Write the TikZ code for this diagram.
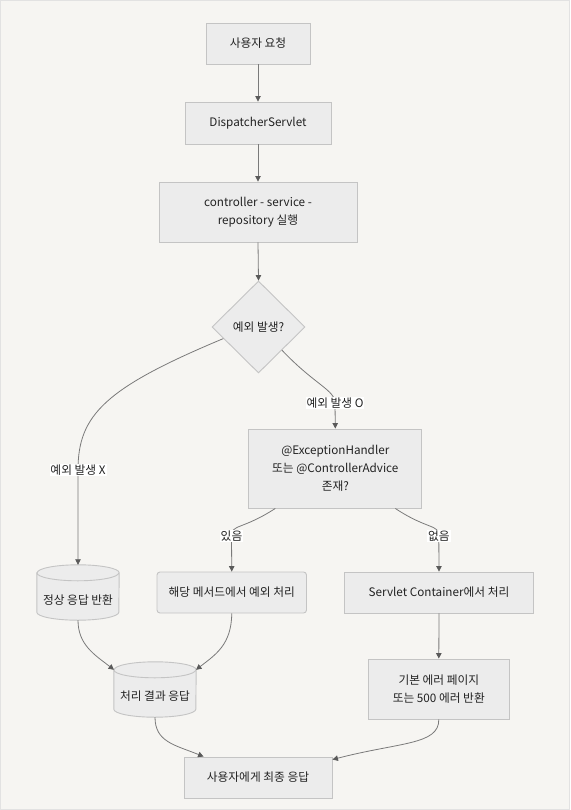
\documentclass[tikz,border=0pt]{standalone}
\usepackage{fontspec}
\setmainfont{Noto Sans CJK KR}
\usetikzlibrary{shapes.geometric,arrows.meta,calc}
\definecolor{bgc}{HTML}{F6F5F2}
\definecolor{framec}{HTML}{E2E2E2}
\definecolor{nodefill}{HTML}{ECECEC}
\definecolor{nodeline}{HTML}{C4C4C4}
\definecolor{txt}{HTML}{222222}
\definecolor{edgec}{HTML}{7A7A7A}
\definecolor{tipc}{HTML}{5A5A5A}
\begin{document}
\begin{tikzpicture}[x=1pt,y=-1pt,
  every node/.style={font=\fontsize{11.7}{18}\selectfont, text=txt},
  box/.style={draw=nodeline, fill=nodefill, line width=0.9pt, align=center, inner sep=0pt},
  rbox/.style={box, rounded corners=3pt},
  cylframe/.style={inner sep=0pt, minimum width=82pt, minimum height=55pt},
  cylline/.style={draw=nodeline, fill=nodefill, line width=0.9pt},
  dia/.style={diamond, aspect=1, draw=nodeline, fill=nodefill, line width=0.9pt, inner sep=0pt, minimum width=93pt, minimum height=92pt},
  lbl/.style={fill=white, inner sep=1pt},
  edge/.style={draw=edgec, line width=0.8pt, -{Triangle[length=5.5pt,width=5.5pt,color=tipc]}}
]
\useasboundingbox (0,0) rectangle (570,810);
\fill[bgc, draw=framec, line width=1pt] (0.5,0.5) rectangle (569.5,809.5);

\node[box, minimum width=104pt, minimum height=41pt] (req) at (258,43.5) {사용자 요청};
\node[box, minimum width=146pt, minimum height=42pt] (disp) at (258,123) {DispatcherServlet};
\node[box, minimum width=198pt, minimum height=60pt] (ctrl) at (258,212) {controller - service -\\repository 실행};
\node[dia] (dec) at (258.5,327) {예외 발생?};
\node[box, minimum width=173pt, minimum height=79pt] (eh) at (335.3,468.5) {@ExceptionHandler\\또는 @ControllerAdvice\\존재?};
\node[rbox, minimum width=149.5pt, minimum height=41pt] (handled) at (231.75,592.5) {해당 메서드에서 예외 처리};
\node[box, minimum width=188.3pt, minimum height=41pt] (servlet) at (439,592.5) {Servlet Container에서 처리};
\node[box, minimum width=141.6pt, minimum height=60pt] (deflt) at (438.8,689) {기본 에러 페이지\\또는 500 에러 반환};
\node[box, minimum width=148pt, minimum height=41pt] (final) at (258,777.5) {사용자에게 최종 응답};

% cylinders
\foreach \n/\p in {normal/{(78,592.5)}, result/{(155,689.5)}}{
  \node[cylframe] (\n) at \p {};
  \path[cylline] ([yshift=-8pt]\n.north west) -- ([yshift=8pt]\n.south west)
    arc(180:360:41pt and 8pt) -- ([yshift=-8pt]\n.north east)
    arc(0:180:41pt and 8pt) -- cycle;
  \draw[nodeline, line width=0.9pt] ([yshift=-8pt]\n.north west) arc(180:360:41pt and 8pt);
}
\node (normaltext) at ([yshift=-7.5pt]normal.center) {정상 응답 반환};
\node (resulttext) at ([yshift=-7pt]result.center) {처리 결과 응답};

\coordinate (lxc) at (78,470);
\coordinate (loc) at (335,403);
\coordinate (yesc) at (231.5,536);
\coordinate (noc) at (438.8,536);

\draw[edge] (req.south) -- (disp.north);
\draw[edge] (disp.south) -- (ctrl.north);
\draw[edge] (ctrl.south) -- (dec.north);
\draw[edge] ($(dec.west)!0.25!(dec.south)$) .. controls (105,388) and (78,415) .. (lxc) -- (normal.north);
\draw[edge] (dec.south east) .. controls (315,385) and (335,390) .. (loc) -- (eh.north);
\draw[edge] ($(eh.south)+(-60,0)$) .. controls (242,530) and (231.5,524) .. (yesc) -- (handled.north);
\draw[edge] ($(eh.south)+(60,0)$) .. controls (428,530) and (438.8,524) .. (noc) -- (servlet.north);
\draw[edge] (servlet.south) -- (deflt.north);
\draw[edge] (normal.south) .. controls (78,645) and (95,655) .. ([xshift=-41pt,yshift=-8pt]result.north);
\draw[edge] (handled.south) .. controls (231.5,645) and (215,655) .. ([xshift=41pt,yshift=-8pt]result.north);
\draw[edge] (result.south) .. controls (155,742) and (175,745) .. ([xshift=20pt]final.north west);
\draw[edge] (deflt.south) .. controls (439,745) and (400,742) .. ([yshift=-3pt]final.north east);

\node[lbl] (lx) at (lxc) {예외 발생 X};
\node[lbl] (lo) at (loc) {예외 발생 O};
\node[lbl] (yes) at (yesc) {있음};
\node[lbl] (no) at (noc) {없음};
\end{tikzpicture}
\end{document}
